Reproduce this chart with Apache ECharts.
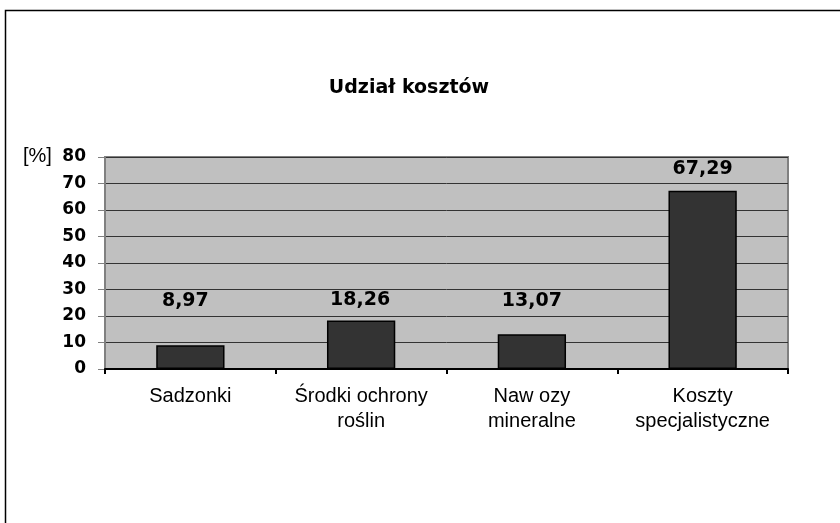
<!DOCTYPE html>
<html><head><meta charset="utf-8">
<script src="https://cdn.jsdelivr.net/npm/echarts@6/dist/echarts.min.js"></script>
<style>html,body{margin:0;padding:0;background:#fff}#c{width:840px;height:523px}</style>
</head><body><div id="c"></div>
<script>
const categories = ['Sadzonki', 'Środki ochrony\nroślin', 'Naw ozy\nmineralne', 'Koszty\nspecjalistyczne'];
const values = [8.97, 18.26, 13.07, 67.29];
const yTicks = [0, 10, 20, 30, 40, 50, 60, 70, 80];
const labelShift = [[-5, -35], [-1, -11], [0, -24], [0, -12]];

const chart = echarts.init(document.getElementById('c'), null, {renderer: 'canvas'});
const sans = '"Liberation Sans", Arial, sans-serif';
const bold = '"DejaVu Sans", Verdana, sans-serif';
chart.setOption({
  animation: false,
  backgroundColor: '#fff',
  title: {
    text: 'Udział kosztów', left: 404, top: 74, textAlign: 'center',
    textStyle: {fontFamily: bold, fontSize: 19, fontWeight: 'bold', color: '#000'}
  },
  graphic: [
    {type: 'rect', shape: {x: 5.5, y: 10.5, width: 840, height: 520}, style: {fill: null, stroke: '#000', lineWidth: 1.5}, silent: true},
    {type: 'text', left: 23, top: 146, style: {text: '[%]', font: '20px ' + sans, fill: '#000'}}
  ],
  grid: {left: 105, right: 52, top: 157, bottom: 154, show: true, backgroundColor: '#c0c0c0', borderColor: '#808080', borderWidth: 2},
  xAxis: {
    type: 'category', data: categories,
    axisLine: {lineStyle: {color: '#000', width: 2}},
    axisTick: {show: true, interval: 0, length: 5, lineStyle: {color: '#000', width: 2}},
    axisLabel: {interval: 0, hideOverlap: false, fontFamily: sans, fontSize: 20, color: '#000', lineHeight: 25, margin: 15}
  },
  yAxis: {
    type: 'value', min: yTicks[0], max: yTicks[yTicks.length - 1], interval: 10,
    axisLine: {show: true, lineStyle: {color: '#808080', width: 2}},
    axisTick: {show: true, length: 7, lineStyle: {color: '#808080'}},
    axisLabel: {fontFamily: bold, fontSize: 17, fontWeight: 'bold', color: '#000', margin: 19},
    splitLine: {lineStyle: {color: '#333', width: 1}}
  },
  series: [{
    type: 'bar', barWidth: '40%',
    itemStyle: {color: '#333333', borderColor: '#000', borderWidth: 1.5},
    label: {
      show: true, position: 'top', distance: 0,
      fontFamily: bold, fontSize: 19, fontWeight: 'bold', color: '#000',
      formatter: p => p.value.toFixed(2).replace('.', ',')
    },
    data: values.map((v, i) => ({value: v, label: {offset: labelShift[i]}}))
  }]
});
</script></body></html>
